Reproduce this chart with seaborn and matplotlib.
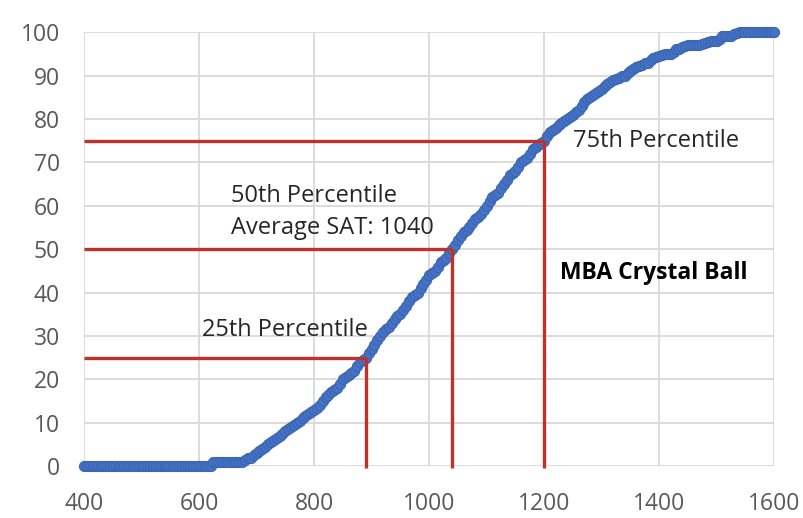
import matplotlib
matplotlib.use("Agg")
import matplotlib.pyplot as plt
import seaborn as sns
import pandas as pd

sat = list(range(400, 1605, 5))
pct = [0]*45 + [
    1, 1, 1, 1, 1, 1, 1, 1, 1, 1, 1,                          # 625-675
    1.5, 2, 2, 2.5, 3, 3.5, 4, 4.5, 5, 5.5, 6, 6.5, 7, 7.5,   # 680-745
    8, 8.5, 9, 9.5, 10, 10.5, 11, 11.5, 12, 12.5,             # 750-795
    13, 13.5, 14, 15, 16, 16.5, 17, 17.5, 18, 19,             # 800-845
    20, 20.5, 21, 21.5, 22, 23, 24, 24.5, 25, 26,             # 850-895
    27, 28, 29, 30, 31, 31.5, 32, 33, 34, 34.5,               # 900-945
    35, 36, 37, 38, 39, 39.5, 40, 41, 42, 43,                 # 950-995
    44, 44.5, 45, 46, 47, 47.5, 48, 49, 50, 51,               # 1000-1045
    52, 53, 54, 54.5, 55, 56, 57, 57.5, 58, 59,               # 1050-1095
    60, 61, 62, 62.5, 63, 64, 65, 66, 67, 67.5,               # 1100-1145
    68, 69, 70, 70.5, 71, 72, 73, 73.5, 74, 74.5,             # 1150-1195
    75, 76, 77, 77.5, 78, 78.5, 79, 79.5, 80, 80.5,           # 1200-1245
    81, 81.5, 82, 83, 84, 84.5, 85, 85.5, 86, 86.5,           # 1250-1295
    87, 87.5, 88, 88.5, 89, 89.2, 89.5, 89.8, 90, 90.5,       # 1300-1345
    91, 91.5, 92, 92.2, 92.5, 92.8, 93, 93.5, 94, 94.2,       # 1350-1395
    94.5, 94.8, 95, 95, 95, 95.5, 96, 96.2, 96.5, 96.8,       # 1400-1445
    97, 97, 97, 97, 97, 97.2, 97.5, 97.8, 98, 98,             # 1450-1495
    98, 98.5, 99, 99, 99, 99.2, 99.5, 99.8,                   # 1500-1535
]
pct = pct + [100]*(len(sat) - len(pct))

mark_pct = [25, 50, 75]
mark_sat = [890, 1040, 1200]
labels = ["25th Percentile", "50th Percentile\nAverage SAT: 1040", "75th Percentile"]
label_x = [605, 656, 1250]
label_y = [31.3, 58.6, 74.9]

sns.set_style("white")
plt.rcParams['font.family'] = ['Open Sans', 'DejaVu Sans']

fig = plt.figure(figsize=(8.04, 5.18), dpi=100)
ax = fig.add_axes([0.1045, 0.100, 0.8585, 0.838])

df = pd.DataFrame({"SAT": sat, "Percentile": pct})
sns.scatterplot(data=df, x="SAT", y="Percentile", ax=ax, s=54, color="#4472C4",
                edgecolor="#3A63B0", linewidth=0.7, zorder=3, clip_on=False)

red = "#C0312B"
for p, s in zip(mark_pct, mark_sat):
    ax.plot([400, s], [p, p], color=red, lw=2.4, zorder=4, solid_capstyle="butt")
    ax.plot([s, s], [-0.5, p], color=red, lw=2.4, zorder=4, solid_capstyle="butt", clip_on=False)

for t, x, y in zip(labels, label_x, label_y):
    ax.text(x, y, t, fontsize=17, color="#262626", va="center", ha="left",
            linespacing=1.45, zorder=5)
ax.text(1228, 44.5, "MBA Crystal Ball", fontsize=16.5, fontweight="bold",
        color="black", va="center", ha="left", zorder=5)

ax.set_xlim(400, 1600)
ax.set_ylim(0, 100)
ax.set_xticks(range(400, 1601, 200))
ax.set_yticks(range(0, 101, 10))
ax.grid(True, color="#D9D9D9", lw=1.3)
ax.set_axisbelow(True)
for sp in ax.spines.values():
    sp.set_visible(False)
ax.tick_params(axis="both", length=0, labelsize=16.5, labelcolor="#595959")
ax.tick_params(axis="y", pad=17.5)
ax.tick_params(axis="x", pad=18.5)
ax.set_xlabel("")
ax.set_ylabel("")

fig.savefig("out.png", dpi=100)
